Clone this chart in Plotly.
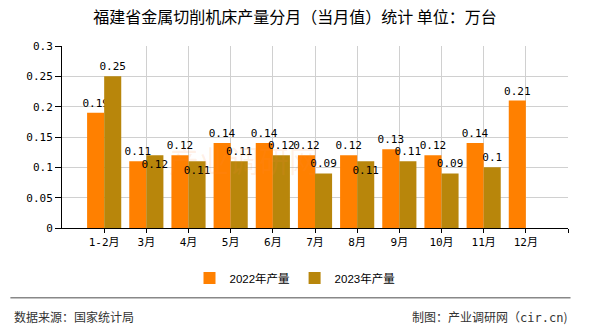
import plotly.graph_objects as go

categories = ["1-2月", "3月", "4月", "5月", "6月", "7月", "8月", "9月", "10月", "11月", "12月"]
values_2022 = [0.19, 0.11, 0.12, 0.14, 0.14, 0.12, 0.12, 0.13, 0.12, 0.14, 0.21]
values_2023 = [0.25, 0.12, 0.11, 0.11, 0.12, 0.09, 0.11, 0.11, 0.09, 0.10, None]
pos_2022 = ["outside"] * 11
pos_2023 = ["outside", "inside", "inside", "outside", "outside", "outside",
            "inside", "outside", "outside", "outside", "outside"]
y_ticks = [0, 0.05, 0.1, 0.15, 0.2, 0.25, 0.3]
y_ticktext = ["0", "0.05", "0.1", "0.15", "0.2", "0.25", "0.3"]
series_names = ["2022年产量", "2023年产量"]
colors = ["#FF8000", "#B8860B"]

title_text = "福建省金属切削机床产量分月（当月值）统计 单位：万台"
source_text = "数据来源：国家统计局"
maker_text = "制图：产业调研网（<span style='font-family:DejaVu Sans Mono'>cir.cn</span>)"

mono = "DejaVu Sans Mono, Noto Sans CJK SC"
cjk = "Noto Sans CJK SC"

n = len(categories)
xs = list(range(n))

fig = go.Figure()
for name, vals, pos, col in [(series_names[0], values_2022, pos_2022, colors[0]),
                             (series_names[1], values_2023, pos_2023, colors[1])]:
    fig.add_trace(go.Bar(
        x=xs, y=vals, name=name, marker=dict(color=col, line=dict(width=0)),
        text=[("" if v is None else f"{v:g}") for v in vals],
        textposition=pos, insidetextanchor="end", constraintext="none",
        textangle=0, cliponaxis=False,
        textfont=dict(family=mono, size=11, color="black"),
        insidetextfont=dict(family=mono, size=11, color="black"),
        outsidetextfont=dict(family=mono, size=11, color="black"),
        hoverinfo="skip",
    ))

fig.update_layout(
    width=590, height=330,
    margin=dict(l=62, r=22, t=46, b=102),
    paper_bgcolor="white", plot_bgcolor="white",
    barmode="group", bargap=0.19, bargroupgap=0,
    title=dict(text=title_text, x=0.5, xref="container", xanchor="center",
               y=1 - 17.5 / 330, yref="container", yanchor="middle",
               font=dict(family=cjk, size=16, color="black")),
    legend=dict(orientation="h", xref="container", x=0.5, xanchor="center",
                yref="container", y=1 - 278 / 330, yanchor="middle",
                font=dict(family="Liberation Sans, Noto Sans CJK SC", size=11.5, color="black"),
                itemwidth=30, traceorder="normal"),
    showlegend=True,
)
fig.update_xaxes(
    range=[-1, n], tickmode="array", tickvals=xs, ticktext=categories,
    showgrid=False,
    minor=dict(tickmode="array", tickvals=list(range(1, n + 1)), showgrid=True,
               gridcolor="#d0d0d0", gridwidth=1, ticks="outside", ticklen=4,
               tickcolor="black"),
    showline=True, linecolor="black", linewidth=1,
    ticks="outside", ticklen=4, tickcolor="black",
    tickfont=dict(family=mono, size=11, color="black"),
    zeroline=False, fixedrange=True,
)
fig.update_yaxes(
    range=[0, 0.3], tickmode="array", tickvals=y_ticks, ticktext=y_ticktext,
    showgrid=True, gridcolor="#d0d0d0", gridwidth=1,
    showline=True, linecolor="black", linewidth=1,
    ticks="outside", ticklen=6, tickcolor="black",
    tickfont=dict(family=mono, size=11, color="black"),
    zeroline=False, fixedrange=True,
)

# watermark
fig.add_annotation(text="产业调研网", xref="paper", yref="paper", x=0.36, y=0.25,
                   showarrow=False, font=dict(family=cjk, size=30, color="rgba(255,140,60,0.13)"))

# footer separator and texts
fig.add_shape(type="line", xref="paper", yref="paper", x0=-0.102, x1=1.005,
              y0=-0.383, y1=-0.383, line=dict(color="#888888", width=1.5))
fig.add_annotation(text=source_text, xref="paper", yref="paper", x=-0.099, y=-0.486,
                   xanchor="left", yanchor="middle", showarrow=False,
                   font=dict(family=cjk, size=12, color="#333333"))
fig.add_annotation(text=maker_text, xref="paper", yref="paper", x=1.002, y=-0.486,
                   xanchor="right", yanchor="middle", showarrow=False,
                   font=dict(family=cjk, size=12, color="#333333"))

fig.write_html("out.html")
